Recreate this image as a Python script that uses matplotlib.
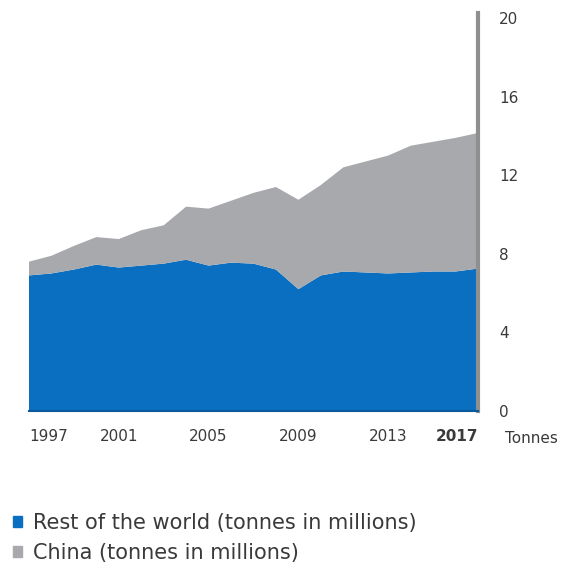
import matplotlib.pyplot as plt
import numpy as np
from matplotlib.patches import Patch

# Annual production, million tonnes
years = np.arange(1997, 2018)
total = [7.6, 7.9, 8.4, 8.85, 8.75, 9.2, 9.45, 10.4, 10.3, 10.7, 11.1,
         11.4, 10.75, 11.5, 12.4, 12.7, 13.0, 13.5, 13.7, 13.9, 14.15]
rest_of_world = [6.9, 7.0, 7.2, 7.45, 7.3, 7.4, 7.5, 7.7, 7.4, 7.55, 7.5,
                 7.2, 6.2, 6.9, 7.1, 7.05, 7.0, 7.05, 7.1, 7.1, 7.25]
china = np.array(total) - np.array(rest_of_world)

tick_years = [1997, 2001, 2005, 2009, 2013, 2017]
y_ticks = [0, 4, 8, 12, 16, 20]

blue = '#0a6fc0'
grey = '#a8a9ad'
txt = '#3a3a3a'

fig = plt.figure(figsize=(5.67, 5.75), dpi=100)
ax = fig.add_axes([0.0511, 0.2852, 0.792, 0.6835])

polys = ax.stackplot(years, rest_of_world, china, colors=[blue, grey],
                     linewidth=0)

ax.set_xlim(1997, 2017)
ax.set_ylim(0, 20)

for s in ['top', 'left']:
    ax.spines[s].set_visible(False)
ax.spines['right'].set_color('#8f8f8f')
ax.spines['right'].set_linewidth(3)
ax.spines['right'].set_bounds(0, 20.25)
ax.spines['bottom'].set_color('#0b5a9e')
ax.spines['bottom'].set_linewidth(1.5)

ax.yaxis.tick_right()
ax.set_yticks(y_ticks)
ax.tick_params(axis='y', length=0, pad=15, labelsize=11, labelcolor=txt)

ax.set_xticks(tick_years)
ax.set_xticklabels([str(y) for y in tick_years])
ax.tick_params(axis='x', length=0, pad=13, labelsize=11, labelcolor=txt)
labels = ax.get_xticklabels()
labels[0].set_horizontalalignment('left')
labels[-1].set_horizontalalignment('right')
labels[-1].set_fontweight('bold')

ax.text(1.06, -0.07, 'Tonnes', transform=ax.transAxes, fontsize=11,
        color=txt, ha='left', va='center')

handles = [Patch(color=blue), Patch(color=grey)]
fig.legend(handles, ['Rest of the world (tonnes in millions)',
                     'China (tonnes in millions)'],
           loc='upper left', bbox_to_anchor=(-0.01, 0.14),
           frameon=False, fontsize=15, labelcolor=txt,
           handlelength=0.45, handleheight=0.45, handletextpad=0.5,
           labelspacing=0.45)

fig.savefig('out.png', dpi=100)
